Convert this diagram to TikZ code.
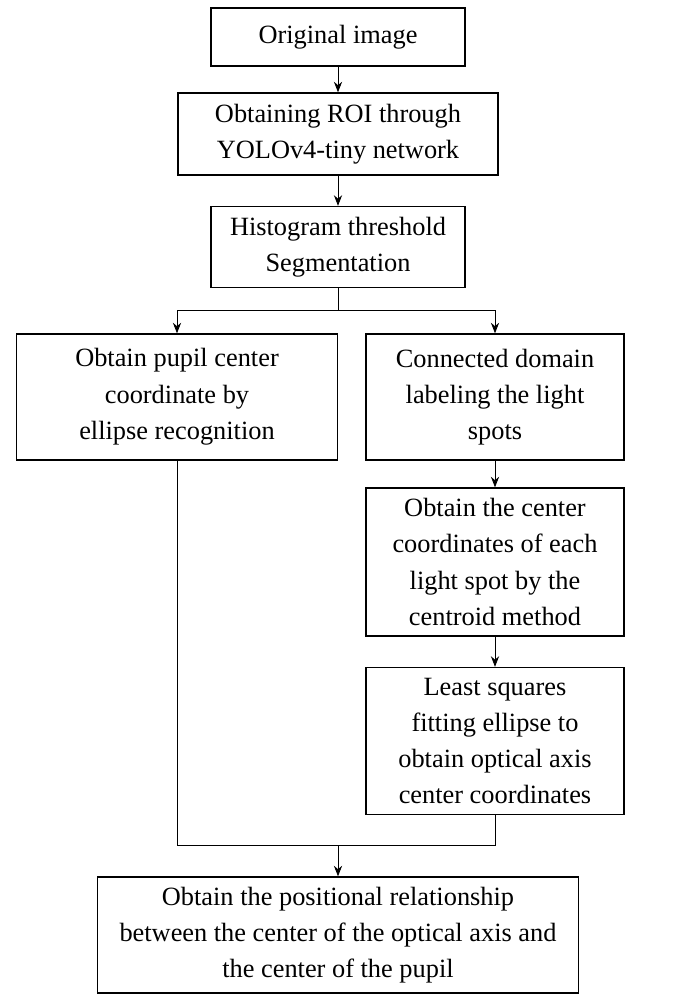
\documentclass[tikz,border=0pt]{standalone}
\usepackage{fontspec}
\setmainfont{Liberation Serif}
\usetikzlibrary{arrows.meta}
\begin{document}
\begin{tikzpicture}[x=0.03cm,y=-0.03cm,
  box/.style={draw,line width=1.2pt,align=center,inner sep=0pt,
    font=\fontsize{22.5}{31}\selectfont},
  arr/.style={-{Stealth[length=9pt,width=7pt]},line width=0.7pt},
  ln/.style={line width=0.7pt}]
\useasboundingbox (0,0) rectangle (674,1000);
\node[box,minimum width=254*0.03cm,minimum height=58*0.03cm] (a) at (338,37) {Original image};
\node[box,minimum width=320*0.03cm,minimum height=82*0.03cm] (b) at (338,134) {Obtaining ROI through\\YOLOv4-tiny network};
\node[box,minimum width=254*0.03cm,minimum height=81*0.03cm] (c) at (338,247) {Histogram threshold\\Segmentation};
\node[box,minimum width=321*0.03cm,minimum height=126*0.03cm] (d) at (177,397) {Obtain pupil center\\coordinate by\\ellipse recognition};
\node[box,minimum width=258*0.03cm,minimum height=126*0.03cm] (e) at (495,397) {Connected domain\\labeling the light\\spots};
\node[box,minimum width=258*0.03cm,minimum height=148*0.03cm] (f) at (495,562) {Obtain the center\\coordinates of each\\light spot by the\\centroid method};
\node[box,minimum width=258*0.03cm,minimum height=147*0.03cm] (g) at (495,741) {Least squares\\fitting ellipse to\\obtain optical axis\\center coordinates};
\node[box,minimum width=481*0.03cm,minimum height=116*0.03cm] (h) at (338,935) {Obtain the positional relationship\\between the center of the optical axis and\\the center of the pupil};
\coordinate (s) at (338,310);
\coordinate (m) at (338,845);
\draw[arr] (a) -- (b);
\draw[arr] (b) -- (c);
\draw[ln] (c.south) -- (s);
\draw[arr] (s) -| (d.north);
\draw[arr] (s) -| (e.north);
\draw[arr] (e) -- (f);
\draw[arr] (f) -- (g);
\draw[ln] (d.south) |- (m);
\draw[ln] (g.south) |- (m);
\draw[arr] (m) -- (h.north);
\end{tikzpicture}
\end{document}
